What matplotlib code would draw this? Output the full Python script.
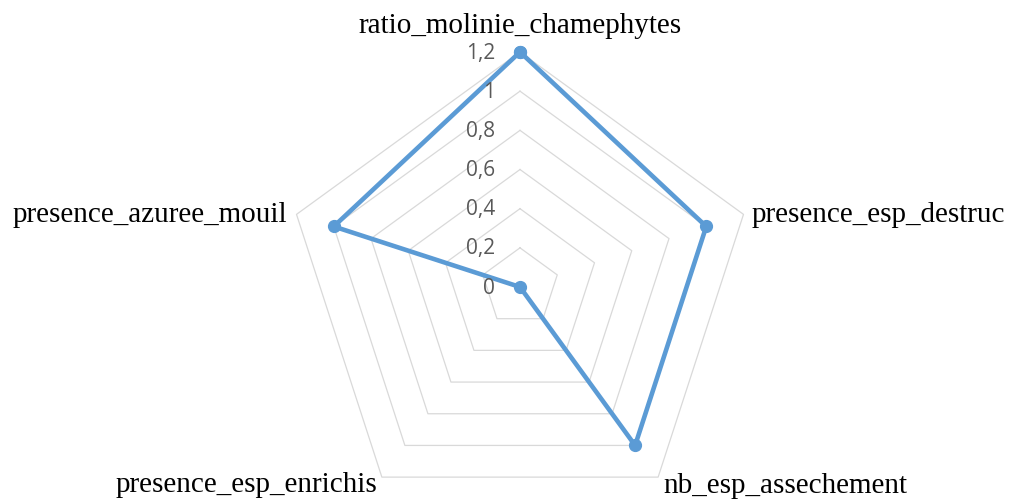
import numpy as np
import matplotlib.pyplot as plt

# radar chart values
categories = ["ratio_molinie_chamephytes", "presence_esp_destruc", "nb_esp_assechement",
              "presence_esp_enrichis", "presence_azuree_mouil"]
values = [1.2, 1.0, 1.0, 0.0, 1.0]
ticks = [0, 0.2, 0.4, 0.6, 0.8, 1.0, 1.2]
tick_labels = ["0", "0,2", "0,4", "0,6", "0,8", "1", "1,2"]

n = len(categories)
angles = np.arange(n) * 2 * np.pi / n
closed_ang = np.append(angles, angles[0])

fig = plt.figure(figsize=(10.11, 5.0), dpi=100)
# center at (520, 287) px, radius 235 px for 1.2
ax = fig.add_axes([(520 - 235) / 1011, (213 - 235) / 500, 470 / 1011, 470 / 500],
                  projection="polar")
ax.set_theta_offset(np.pi / 2)
ax.set_theta_direction(-1)
ax.set_ylim(0, 1.2)
ax.grid(False)
ax.spines["polar"].set_visible(False)
ax.set_xticks([])
ax.set_yticks([])
ax.patch.set_alpha(0)

# pentagon gridlines
for t in ticks[1:]:
    ax.plot(closed_ang, [t] * (n + 1), color="#D9D9D9", lw=0.9, zorder=1, clip_on=False)

# data
ax.plot(closed_ang, values + values[:1], color="#5B9BD5", lw=3.3, marker="o",
        markersize=8.5, zorder=3, clip_on=False)

# value labels along the top axis
for t, lab in zip(ticks, tick_labels):
    ax.annotate(lab, (0, t), xytext=(-25, -6.5), textcoords="offset pixels",
                ha="right", va="baseline", fontsize=15, color="#595959",
                family="Open Sans", annotation_clip=False)

# category labels
offsets = [(0, 19, "center"), (8.5, -8, "left"), (5, -16, "left"),
           (-5, -15, "right"), (-9.5, -8, "right")]
for a, lab, (dx, dy, ha) in zip(angles, categories, offsets):
    ax.annotate(lab, (a, 1.2), xytext=(dx, dy), textcoords="offset pixels",
                ha=ha, va="baseline", fontsize=21, color="black",
                family="Liberation Serif", annotation_clip=False)

plt.savefig("out.png", dpi=100)
